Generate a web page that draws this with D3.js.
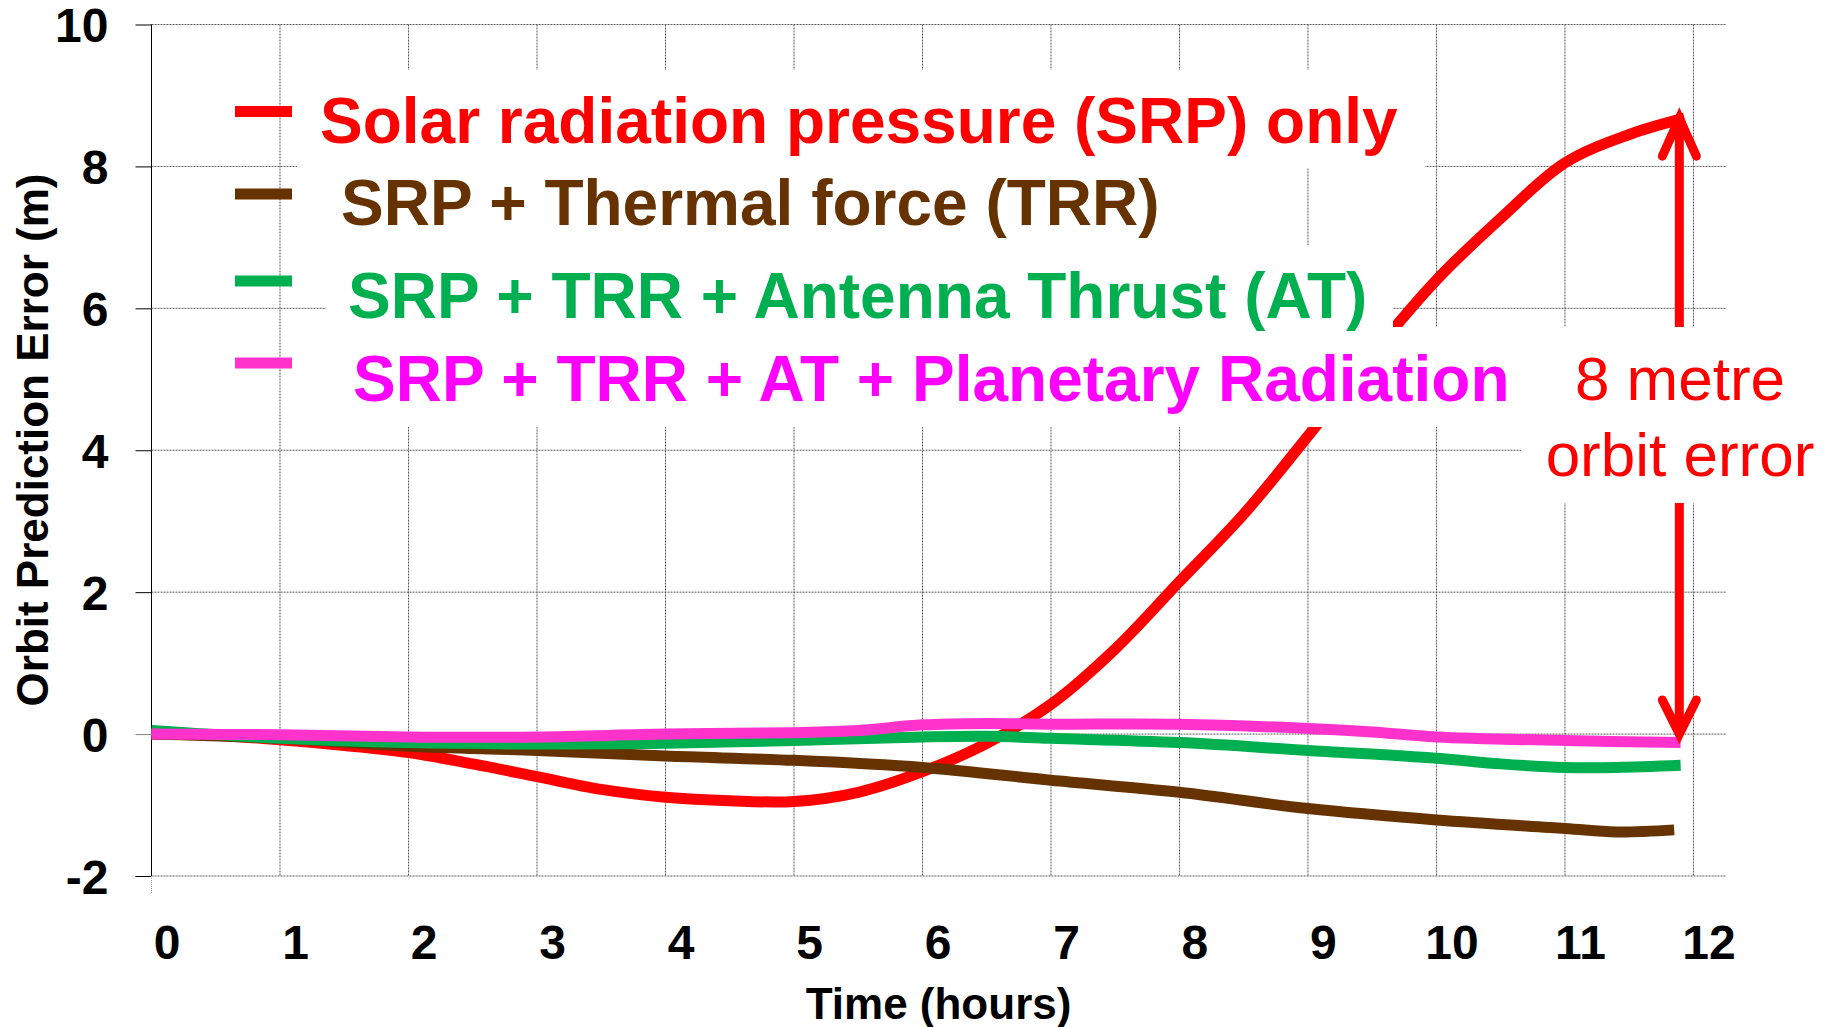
<!DOCTYPE html>
<meta charset="utf-8">
<style>
    body { margin: 0; background: #fff; }
    svg { display: block; }
    text { font-family: "Liberation Sans", Arial, sans-serif; }
    .grid line { stroke: #5a5a5a; stroke-width: 1; stroke-dasharray: 2,1; }
    .tick text { font-size: 48px; font-weight: bold; fill: #000; }
    .series { fill: none; stroke-width: 11; }
    .legend text { font-size: 64px; font-weight: bold; }
</style>
<script src="https://d3js.org/d3.v7.min.js"></script>
<svg width="1827" height="1027"></svg>
<script>
    // hours / metres
    let srpT  = [0, 0.5, 1, 1.5, 2, 2.5, 3, 3.5, 4, 4.5, 5, 5.5, 6, 6.5, 7, 7.5, 8, 8.5, 9, 9.5, 10, 10.5, 11, 11.5, 11.93];
    let srpV  = [0, -0.02, -0.08, -0.16, -0.26, -0.42, -0.6, -0.78, -0.89, -0.94, -0.95, -0.82, -0.53, -0.13, 0.42, 1.2, 2.15, 3.1, 4.2, 5.35, 6.4, 7.27, 8.05, 8.45, 8.68];
    let trrT  = [0, 1, 2, 3, 4, 5, 6, 7, 8, 9, 10, 11, 11.4, 11.85];
    let trrV  = [0, -0.06, -0.17, -0.23, -0.31, -0.37, -0.47, -0.65, -0.82, -1.05, -1.21, -1.33, -1.38, -1.35];
    let atT   = [0, 1, 2, 3, 4, 5, 6, 6.5, 7, 8, 9, 10, 10.5, 11, 11.4, 11.9];
    let atV   = [0.05, -0.06, -0.12, -0.14, -0.13, -0.09, -0.04, -0.03, -0.06, -0.12, -0.23, -0.34, -0.42, -0.47, -0.47, -0.44];
    let prT   = [0, 1, 2, 3, 4, 5, 5.5, 6, 6.5, 7, 8, 9, 9.5, 10, 11, 11.9];
    let prV   = [0, -0.01, -0.04, -0.04, 0, 0.02, 0.05, 0.13, 0.15, 0.14, 0.14, 0.08, 0.03, -0.04, -0.09, -0.12];

    let seriesNames = ["Solar radiation pressure (SRP) only", "SRP + Thermal force (TRR)",
        "SRP + TRR + Antenna Thrust (AT)", "SRP + TRR + AT + Planetary Radiation"];
    let lineColors = ["#ff0000", "#663300", "#00b050", "#ff33cc"];
    let textColors = ["#ff0000", "#663300", "#00b050", "#ff00ff"];

    let xTicks = [0, 1, 2, 3, 4, 5, 6, 7, 8, 9, 10, 11, 12];
    let yTicks = [-2, 0, 2, 4, 6, 8, 10];
    let arrowAt = {t: 11.89, from: 8.68, to: 0};
    let note = ["8 metre", "orbit error"];

    let svg = d3.select("svg");
    let x = d3.scaleLinear().domain([0, 12.25]).range([151.5, 1725.6]);
    let y = d3.scaleLinear().domain([-2, 10]).range([876, 24.5]);

    // grid
    let grid = svg.append("g").attr("class", "grid");
    grid.selectAll(".v").data(xTicks).enter().append("line")
        .attr("x1", d => x(d)).attr("x2", d => x(d))
        .attr("y1", y(10)).attr("y2", y(-2));
    grid.selectAll(".h").data(yTicks).enter().append("line")
        .attr("x1", x(0)).attr("x2", x(12.25))
        .attr("y1", d => y(d)).attr("y2", d => y(d));

    // y axis
    let yAxis = svg.append("g")
        .attr("transform", "translate(" + x(0) + ",0)")
        .call(d3.axisLeft(y).tickValues(yTicks).tickSize(16).tickPadding(27).tickFormat(d => String(d)));
    yAxis.select(".domain").attr("stroke", "#000").attr("d", "M0," + y(10) + "V" + y(-2));
    yAxis.selectAll(".tick text").attr("dy", "0.36em");
    yAxis.selectAll(".tick").filter(d => d === 0).select("line").attr("stroke", "#808080");
    svg.append("line").attr("x1", x(0)).attr("x2", x(0)).attr("y1", y(-2)).attr("y2", y(-2) + 17)
        .attr("stroke", "#999").attr("stroke-dasharray", "1,1");

    // x axis labels
    let xAxis = svg.append("g")
        .attr("transform", "translate(0," + y(-2) + ")")
        .call(d3.axisBottom(x).tickValues(xTicks).tickSize(0).tickFormat(d => String(d)));
    xAxis.select(".domain").remove();
    xAxis.selectAll(".tick text").attr("y", 83).attr("dy", null).attr("dx", 15);

    // titles
    svg.append("text")
        .attr("transform", "translate(47.5,440) rotate(-90)")
        .attr("text-anchor", "middle")
        .style("font-size", "44px").style("font-weight", "bold")
        .text("Orbit Prediction Error (m)");
    svg.append("text")
        .attr("x", (x(0) + x(12.25)) / 2).attr("y", 1019)
        .attr("text-anchor", "middle")
        .style("font-size", "44px").style("font-weight", "bold")
        .text("Time (hours)");

    // lines
    let line = d3.line()
        .x(d => x(d[0])).y(d => y(d[1]))
        .curve(d3.curveCatmullRom.alpha(0.5));
    let series = [[srpT, srpV], [trrT, trrV], [atT, atV], [prT, prV]];
    series.forEach(function (s, i) {
        svg.append("path")
            .attr("class", "series")
            .attr("stroke", lineColors[i])
            .attr("d", line(d3.zip(s[0], s[1])));
    });

    // double arrow
    let ax = x(arrowAt.t), aTop = y(arrowAt.from), aBot = y(arrowAt.to);
    let arrow = svg.append("g").attr("stroke", "#ff0000").attr("fill", "none")
        .attr("stroke-width", 9).attr("stroke-linecap", "round").attr("stroke-linejoin", "miter");
    arrow.append("line").attr("x1", ax).attr("x2", ax).attr("y1", aTop + 4).attr("y2", aBot - 4)
        .attr("stroke-linecap", "butt");
    arrow.append("path").attr("d", "M" + (ax - 17) + "," + (aTop + 38) + "L" + ax + "," + aTop + "L" + (ax + 17) + "," + (aTop + 38));
    arrow.append("path").attr("d", "M" + (ax - 17) + "," + (aBot - 34) + "L" + ax + "," + aBot + "L" + (ax + 17) + "," + (aBot - 34));

    // white text boxes (they sit above the plot like the slide's text boxes)
    let boxes = [[297, 70, 1425, 168], [297, 168, 1300, 245], [326, 245, 1393, 327], [326, 327, 1521, 427], [1521, 327, 1827, 503]];
    svg.selectAll(".box").data(boxes).enter().append("rect")
        .attr("x", d => d[0]).attr("y", d => d[1])
        .attr("width", d => d[2] - d[0]).attr("height", d => d[3] - d[1])
        .attr("fill", "#fff");

    // legend
    let legRows = [{my: 111.5, ty: 143, tx: 320}, {my: 194, ty: 225, tx: 341},
        {my: 281, ty: 318, tx: 348}, {my: 363, ty: 401, tx: 353}];
    let legend = svg.append("g").attr("class", "legend");
    seriesNames.forEach(function (name, i) {
        let r = legRows[i];
        legend.append("rect").attr("x", 235).attr("y", r.my - 5.5).attr("width", 57).attr("height", 11)
            .attr("fill", lineColors[i]);
        legend.append("text").attr("x", r.tx).attr("y", r.ty).attr("fill", textColors[i]).text(name);
    });

    // note
    svg.append("g").selectAll("text").data(note).enter().append("text")
        .attr("x", 1680).attr("y", (d, i) => 400 + i * 76)
        .attr("text-anchor", "middle").attr("fill", "#ff0000")
        .style("font-size", "62px")
        .text(d => d);
</script>
